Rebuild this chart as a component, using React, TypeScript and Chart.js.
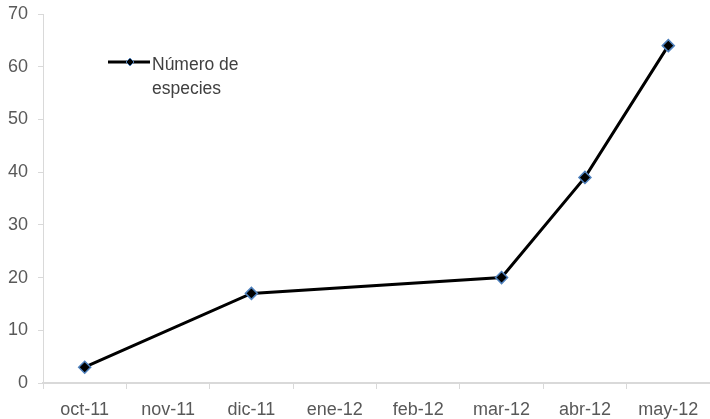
import React, { useEffect, useRef } from "react";
import { Chart, registerables } from "chart.js";

Chart.register(...registerables);

const categories = ["oct-11", "nov-11", "dic-11", "ene-12", "feb-12", "mar-12", "abr-12", "may-12"];
const especies: (number | null)[] = [3, null, 17, null, null, 20, 39, 64];
const seriesLabel = ["Número de", "especies"];
const yTicks = [0, 10, 20, 30, 40, 50, 60, 70];

const FONT = "'Liberation Sans', Arial, sans-serif";

const legendPlugin = {
  id: "customLegend",
  afterDraw(chart: any) {
    const ctx = chart.ctx;
    const x0 = 108, x1 = 150, y = 62;
    ctx.save();
    ctx.strokeStyle = "#000000";
    ctx.lineWidth = 3;
    ctx.beginPath();
    ctx.moveTo(x0, y);
    ctx.lineTo(x1, y);
    ctx.stroke();
    const mx = 130, r = 4;
    ctx.fillStyle = "#000000";
    ctx.strokeStyle = "#4f81bd";
    ctx.lineWidth = 1;
    ctx.beginPath();
    ctx.moveTo(mx, y - r);
    ctx.lineTo(mx + r, y);
    ctx.lineTo(mx, y + r);
    ctx.lineTo(mx - r, y);
    ctx.closePath();
    ctx.fill();
    ctx.stroke();
    ctx.fillStyle = "#404040";
    ctx.font = `17.5px ${FONT}`;
    ctx.textBaseline = "middle";
    ctx.textAlign = "left";
    ctx.fillText(seriesLabel[0], 152, y + 3);
    ctx.fillText(seriesLabel[1], 152, y + 27);
    ctx.restore();
  },
};

export default function App() {
  const ref = useRef<HTMLCanvasElement>(null);
  useEffect(() => {
    document.body.style.margin = "0";
    const chart = new Chart(ref.current!, {
      type: "line",
      data: {
        labels: categories,
        datasets: [
          {
            label: seriesLabel.join(" "),
            data: especies,
            spanGaps: true,
            borderColor: "#000000",
            borderWidth: 3,
            pointStyle: "rectRot",
            pointRadius: 6,
            pointBackgroundColor: "#000000",
            pointBorderColor: "#4f81bd",
            pointBorderWidth: 1.5,
            tension: 0,
          },
        ],
      },
      options: {
        animation: false,
        responsive: false,
        maintainAspectRatio: false,
        layout: { autoPadding: false, padding: { top: 14, right: -1, left: 0, bottom: 0 } },
        plugins: { legend: { display: false }, tooltip: { enabled: false } },
        scales: {
          x: {
            offset: true,
            grid: {
              offset: true,
              drawOnChartArea: false,
              drawTicks: true,
              tickLength: 6,
              color: "#d9d9d9",
            },
            border: { color: "#d9d9d9", width: 2 },
            ticks: {
              color: "#595959",
              font: { family: FONT, size: 18 },
              padding: 10,
              maxRotation: 0,
              autoSkip: false,
            },
            afterFit(scale: any) {
              scale.height = 36;
              scale.paddingLeft = 0;
              scale.paddingRight = 0;
            },
          },
          y: {
            min: 0,
            max: 70,
            afterBuildTicks(scale: any) {
              scale.ticks = yTicks.map((v) => ({ value: v }));
            },
            grid: {
              drawOnChartArea: false,
              drawTicks: true,
              tickLength: 5,
              color: "#d9d9d9",
            },
            border: { color: "#d9d9d9", width: 1 },
            ticks: {
              color: "#595959",
              font: { family: FONT, size: 18 },
              padding: 10,
            },
            afterFit(scale: any) {
              scale.width = 43;
              scale.paddingTop = 0;
              scale.paddingBottom = 0;
            },
          },
        },
      },
      plugins: [legendPlugin],
    });
    return () => chart.destroy();
  }, []);
  return (
    <div style={{ position: "absolute", left: 0, top: 0, width: 710, height: 419 }}>
      <canvas ref={ref} width={710} height={419} style={{ display: "block" }} />
    </div>
  );
}
